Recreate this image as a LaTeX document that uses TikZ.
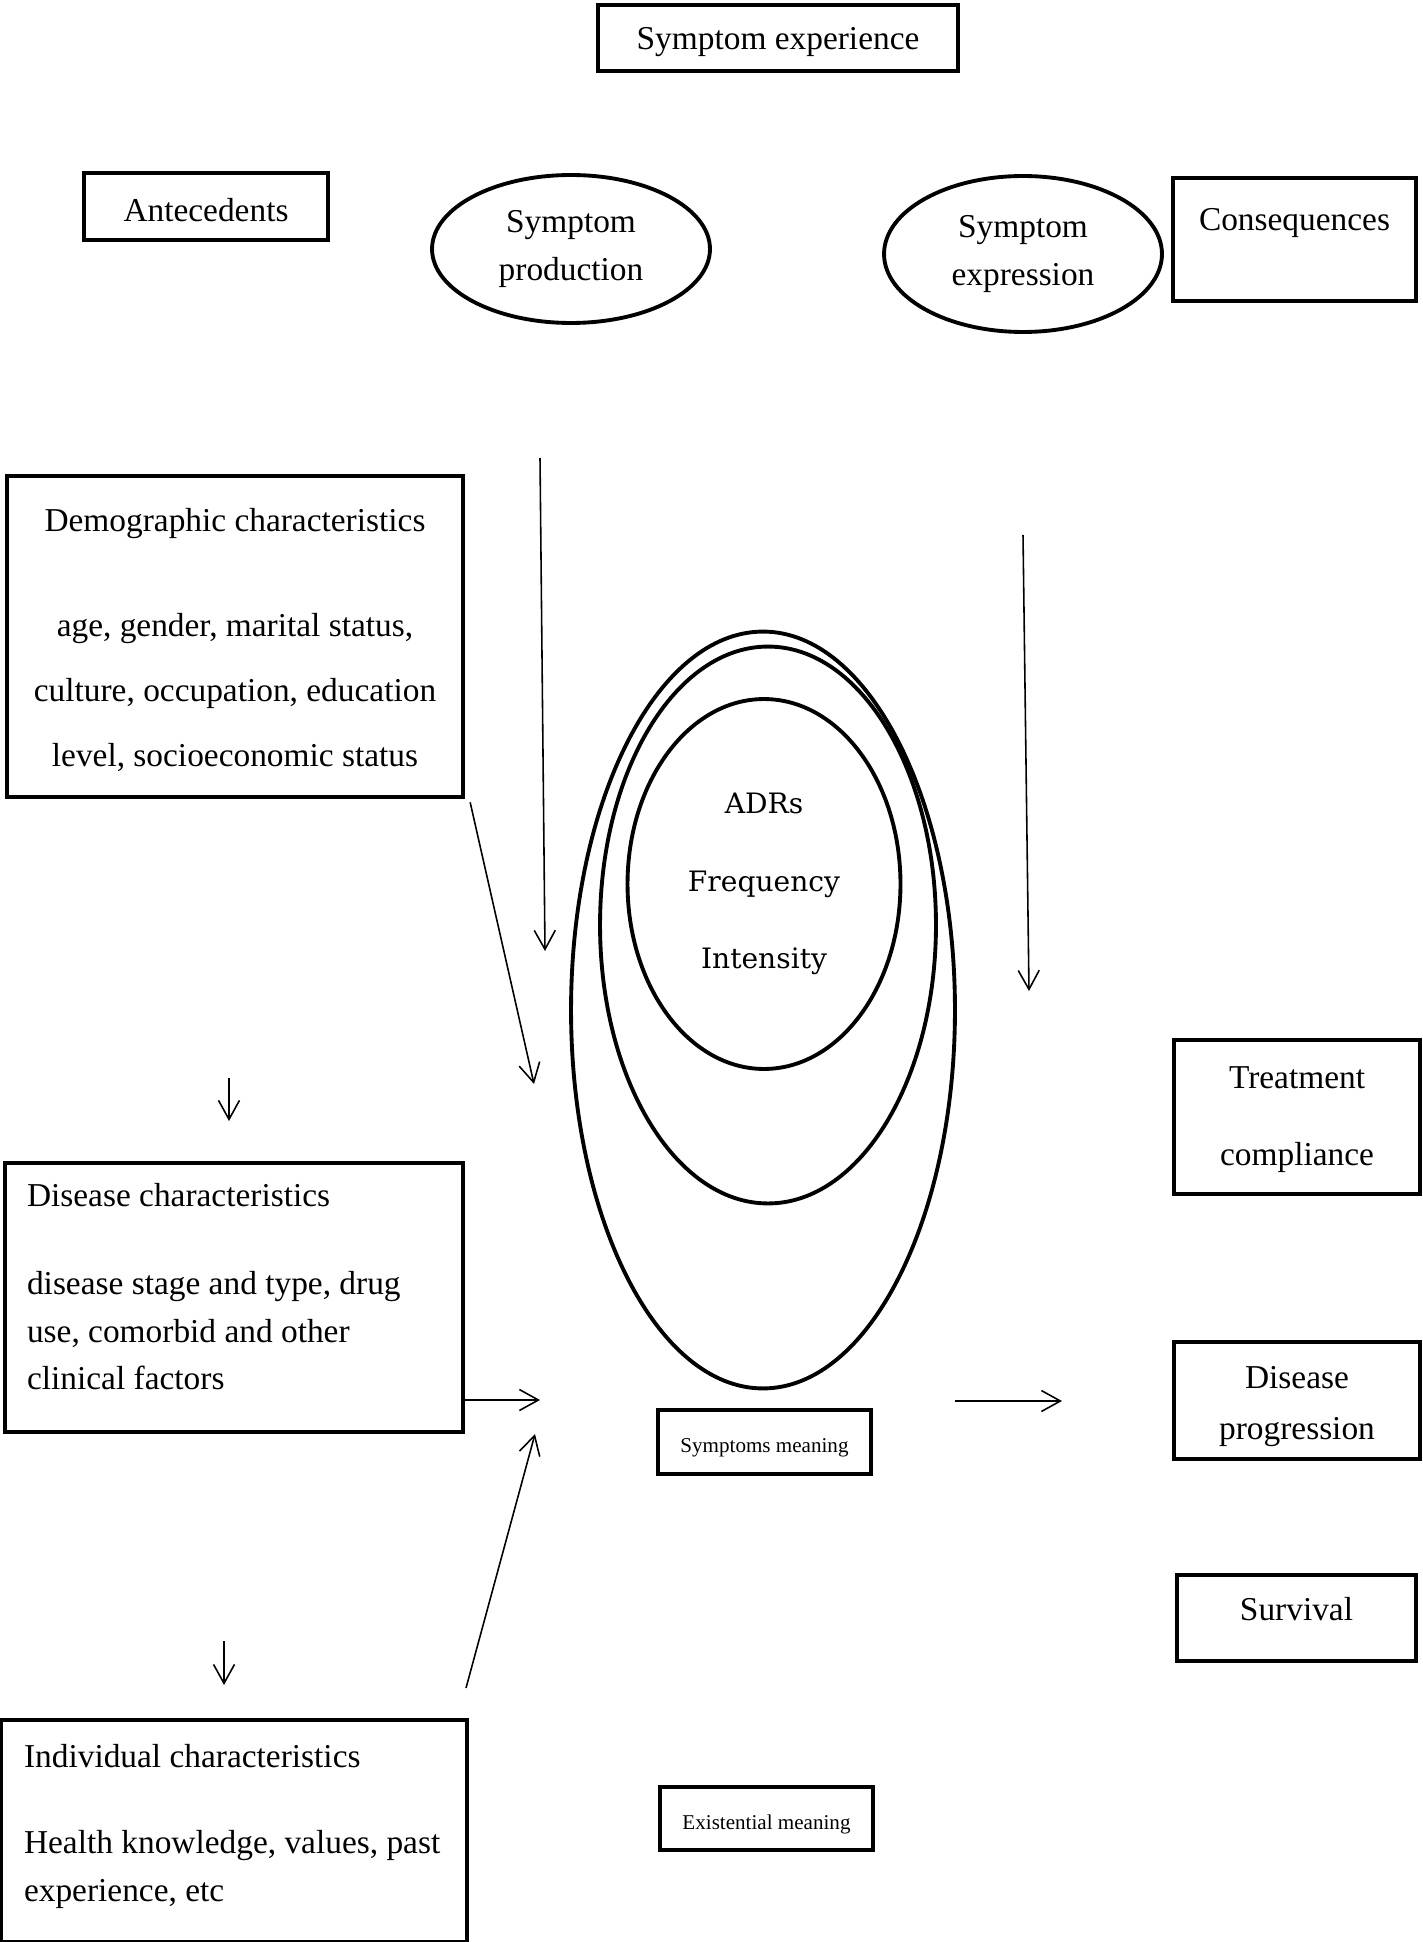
\documentclass[tikz,border=0pt]{standalone}
\usepackage{fontspec}
\setmainfont{Liberation Serif}
\newfontfamily\adrfont{DejaVu Serif}
\usetikzlibrary{shapes.geometric,arrows.meta}
\newcommand\mainsize{\fontsize{19}{27}\selectfont}
\newcommand\boxlines[1]{\begin{tabular}{@{}c@{}}#1\end{tabular}}
\newcommand\leftlines[2]{\makebox[#1][l]{\begin{tabular}{@{}l@{}}#2\end{tabular}}}

\begin{document}
\begin{tikzpicture}[x=0.02cm,y=-0.02cm,
	box/.style={shape=rectangle,draw,line width=2.2pt,inner sep=0pt,font=\mainsize},
	oval/.style={shape=ellipse,draw,line width=2.2pt,inner sep=0pt,align=center,font=\mainsize},
	flow/.style={-{Straight Barb[length=0.38cm,width=0.42cm]},line width=0.9pt},
	note/.style={box,font=\fontsize{12}{14}\selectfont},]
		\useasboundingbox (0,0) rectangle (1422,1942);
		
		% create the nodes
		\node (exper) [box,anchor=north,minimum width=7.2cm,text height=0.9cm,text depth=0.42cm] at (778,3) {Symptom experience};
		\node (antec) [box,anchor=north,minimum width=4.88cm,text height=0.98cm,text depth=0.36cm] at (206,171) {Antecedents};
		\node (prod) [oval,minimum width=5.56cm,minimum height=2.96cm] at (571,249) {Symptom\\ production};
		\node (expr) [oval,minimum width=5.56cm,minimum height=3.12cm] at (1023,254) {Symptom\\ expression};
		\node (conseq) [box,anchor=north,minimum width=4.86cm,text height=1.06cm,text depth=1.4cm] at (1294.5,176) {Consequences};
		
		\node (demo) [box,anchor=north,minimum width=9.12cm,text height=3.42cm,text depth=3.0cm] at (235,474) {\boxlines{Demographic characteristics\\[33pt] age, gender, marital status,\\[10pt] culture, occupation, education\\[10pt] level, socioeconomic status}};
		\node (dis) [box,anchor=north,inner xsep=0.44cm,text height=2.67cm,text depth=2.71cm] at (234,1161) {\leftlines{8.28cm}{Disease characteristics\\[23pt] disease stage and type, drug\\ use, comorbid and other\\ clinical factors}};
		\node (indiv) [box,anchor=north,inner xsep=0.46cm,text height=2.25cm,text depth=2.19cm] at (234,1718) {\leftlines{8.4cm}{Individual characteristics\\[22pt] Health knowledge, values, past\\ experience, etc}};
		
		\node (outer) [oval,minimum width=7.68cm,minimum height=15.14cm] at (763,1010) {};
		\node (middle) [oval,minimum width=6.72cm,minimum height=11.14cm] at (768,925) {};
		\node (inner) [oval,minimum width=5.46cm,minimum height=7.4cm,font={\adrfont\fontsize{16}{44}\selectfont}] at (764,884) {ADRs\\ Frequency\\ Intensity};
		\node (sympmean) [note,anchor=north,minimum width=4.26cm,text height=0.86cm,text depth=0.42cm] at (764.5,1408) {Symptoms meaning};
		\node (exist) [note,anchor=north,minimum width=4.26cm,text height=0.86cm,text depth=0.4cm] at (766.5,1785) {Existential meaning};
		
		\node (treat) [box,anchor=north,minimum width=4.92cm,text height=1.7cm,text depth=1.38cm] at (1297,1038) {\boxlines{Treatment\\[17pt] compliance}};
		\node (prog) [box,anchor=north,minimum width=4.92cm,text height=1.41cm,text depth=0.93cm] at (1297,1340) {\boxlines{Disease\\[2pt] progression}};
		\node (surv) [box,anchor=north,minimum width=4.78cm,text height=0.92cm,text depth=0.8cm] at (1296.5,1573) {Survival};
		
		% free ends of the arrows
		\coordinate (prodfrom) at (540,458);
		\coordinate (prodto) at (545,951);
		\coordinate (exprfrom) at (1023,535);
		\coordinate (exprto) at (1029,991);
		\coordinate (demoto) at (534,1084);
		\coordinate (demodown) at (229,1078);
		\coordinate (disup) at (229,1121);
		\coordinate (disto) at (540,1400);
		\coordinate (indivfrom) at (466,1688);
		\coordinate (indivto) at (535,1434);
		\coordinate (disdown) at (224,1641);
		\coordinate (indivup) at (224,1685);
		\coordinate (outfrom) at (955,1401);
		\coordinate (outto) at (1062,1401);
		
		% connect the nodes
		\draw[flow] (prodfrom) to (prodto);
		\draw[flow] (exprfrom) to (exprto);
		\draw[flow] ([xshift=3pt,yshift=-2pt]demo.south east) to (demoto);
		\draw[flow] (demodown) to (disup);
		\draw[flow] (dis.east |- disto) to (disto);
		\draw[flow] (indivfrom) to (indivto);
		\draw[flow] (disdown) to (indivup);
		\draw[flow] (outfrom) to (outto);
		
	\end{tikzpicture}
\end{document}
